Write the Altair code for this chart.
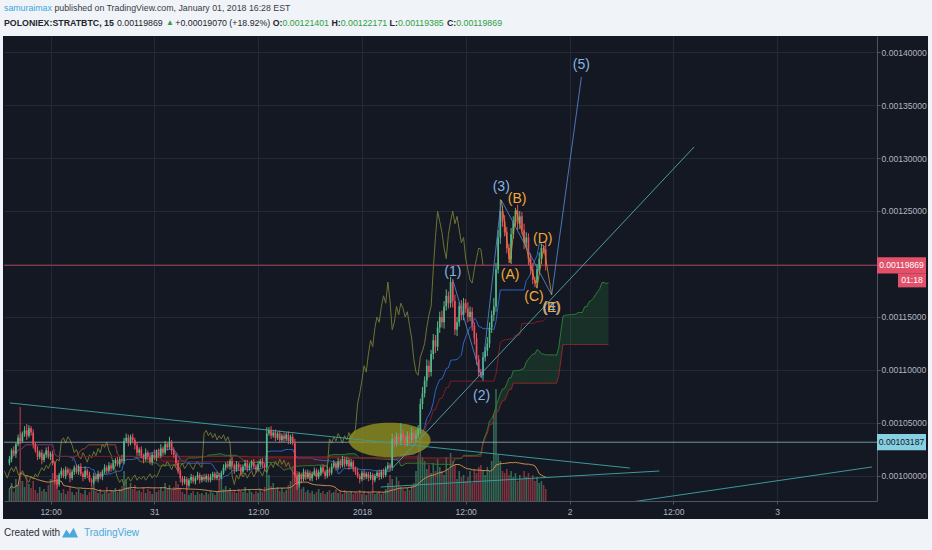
import altair as alt
import numpy as np
import pandas as pd

# ---------------------------------------------------------------------------
# POLONIEX:STRATBTC, 15-minute bars. Prices in micro-BTC (1e-6 BTC).
# ---------------------------------------------------------------------------
CLOSE = [
    1016, 1024, 1021, 1030, 1036, 1033, 1040, 1043, 1038, 1045,
    1041, 1030, 1024, 1018, 1022, 1015, 1020, 1024, 1018, 1021,
    1012, 997, 992, 1001, 1005, 1000, 1006, 1003, 998, 1004,
    1008, 1004, 1009, 1002, 999, 1005, 1001, 996, 994, 1000,
    997, 1002, 999, 1004, 1008, 1005, 1010, 1007, 1012, 1015,
    1011, 1016, 1014, 1033, 1036, 1031, 1037, 1034, 1029, 1022,
    1025, 1019, 1016, 1022, 1018, 1013, 1020, 1017, 1023, 1019,
    1026, 1022, 1030, 1027, 1032, 1024, 1020, 1012, 1005, 998,
    994, 997, 991, 996, 999, 995, 998, 1001, 996, 999,
    997, 1000, 996, 999, 1002, 998, 1001, 999, 1003, 1008,
    1011, 1009, 1014, 1010, 1006, 1011, 1008, 1004, 1009, 1012,
    1007, 1010, 1013, 1009, 1006, 1011, 1014, 1010, 1008, 1040,
    1043, 1038, 1041, 1036, 1040, 1034, 1038, 1035, 1039, 1033,
    1037, 1031, 1000, 992, 1001, 997, 1004, 999, 1003, 998,
    1002, 1005, 999, 1003, 1008, 1004, 1000, 1006, 1003, 1009,
    1012, 1008, 1014, 1010, 1016, 1011, 1015, 1009, 1013, 1007,
    1004, 1000, 997, 1003, 999, 1002, 998, 1001, 996, 1000,
    1003, 999, 1004, 1001, 1007, 1010, 1008, 1035, 1031, 1037,
    1033, 1040, 1036, 1031, 1038, 1034, 1041, 1035, 1039, 1044,
    1068, 1078, 1090, 1104, 1098, 1115, 1128, 1122, 1140, 1150,
    1145, 1160, 1170, 1163, 1183, 1165, 1138, 1145, 1160, 1152,
    1163, 1158, 1150, 1155, 1142, 1130, 1110, 1098, 1095, 1112,
    1118, 1125, 1140, 1152, 1160, 1195, 1225, 1250, 1240, 1230,
    1215, 1205, 1228, 1240, 1250, 1238, 1245, 1232, 1220, 1225,
    1205, 1195, 1185, 1182, 1195, 1205, 1215, 1214.01, 1198.69,
]
UPPER_WICK = [
    3, 2, 4, 2, 3, 5, 2, 4, 6, 3,
    2, 3, 2, 4, 2, 3, 2, 3, 4, 2,
    3, 2, 4, 2, 3, 2, 3, 2, 4, 2,
    2, 3, 2, 3, 2, 4, 2, 3, 2, 3,
    2, 3, 2, 2, 3, 2, 3, 2, 3, 2,
    3, 2, 4, 3, 4, 3, 2, 3, 2, 3,
    2, 3, 2, 4, 2, 3, 2, 5, 2, 3,
    4, 2, 3, 2, 5, 2, 3, 2, 3, 2,
    2, 3, 2, 2, 3, 2, 2, 3, 2, 2,
    3, 2, 2, 3, 2, 2, 3, 2, 2, 3,
    2, 3, 2, 4, 2, 3, 2, 3, 2, 3,
    3, 2, 2, 3, 2, 3, 2, 3, 2, 6,
    3, 4, 2, 3, 2, 3, 2, 3, 2, 3,
    2, 3, 4, 2, 3, 2, 3, 2, 3, 2,
    2, 3, 2, 3, 2, 3, 2, 3, 2, 3,
    3, 2, 3, 2, 3, 2, 3, 2, 3, 2,
    2, 3, 2, 2, 3, 2, 2, 3, 2, 2,
    2, 3, 2, 3, 2, 3, 2, 5, 3, 4,
    3, 10, 4, 3, 4, 3, 5, 3, 4, 4,
    5, 6, 4, 6, 5, 4, 6, 5, 6, 5,
    6, 5, 6, 4, 5, 3, 6, 5, 4, 6,
    5, 4, 6, 5, 4, 3, 5, 4, 3, 5,
    4, 6, 5, 4, 8, 6, 7, 11, 5, 6,
    5, 4, 6, 5, 3, 6, 5, 4, 6, 5,
    4, 5, 6, 3, 5, 6, 4, 3, 7.70,
]
LOWER_WICK = [
    2, 3, 2, 4, 2, 3, 2, 3, 4, 2,
    3, 4, 2, 3, 2, 4, 2, 3, 2, 3,
    2, 5, 4, 2, 3, 2, 3, 2, 4, 2,
    3, 2, 3, 2, 4, 2, 3, 2, 3, 2,
    2, 3, 2, 3, 2, 3, 2, 3, 2, 3,
    2, 3, 2, 3, 2, 3, 2, 3, 4, 3,
    3, 2, 4, 2, 3, 2, 3, 2, 3, 2,
    2, 3, 2, 3, 2, 4, 3, 4, 3, 4,
    3, 2, 4, 2, 3, 2, 3, 2, 3, 2,
    2, 3, 2, 2, 3, 2, 2, 3, 2, 2,
    3, 2, 3, 2, 4, 2, 3, 4, 2, 3,
    3, 2, 3, 2, 3, 2, 3, 2, 3, 4,
    2, 3, 2, 3, 2, 3, 2, 3, 2, 3,
    3, 2, 6, 5, 3, 4, 2, 3, 2, 3,
    3, 2, 3, 2, 3, 2, 3, 2, 3, 2,
    2, 3, 2, 3, 2, 3, 2, 3, 2, 3,
    3, 2, 4, 2, 3, 2, 3, 2, 5, 2,
    2, 3, 2, 3, 2, 2, 3, 3, 4, 3,
    3, 4, 3, 4, 3, 4, 3, 4, 3, 3,
    4, 5, 4, 6, 5, 4, 5, 6, 4, 5,
    5, 6, 4, 5, 4, 6, 5, 6, 4, 5,
    5, 4, 5, 4, 5, 6, 5, 4, 2, 5,
    4, 5, 4, 5, 6, 5, 4, 6, 5, 4,
    5, 4, 5, 4, 5, 6, 5, 4, 6, 5,
    6, 5, 4, 4, 5, 4, 5, 4, 4.84,
]
VOLUME = [
    12, 18, 9, 22, 15, 94, 20, 14, 25, 17,
    13, 20, 11, 8, 14, 10, 12, 9, 16, 22,
    28, 24, 19, 11, 8, 12, 7, 10, 14, 9,
    6, 9, 12, 8, 7, 11, 6, 9, 16, 20,
    10, 8, 12, 7, 9, 14, 8, 11, 10, 13,
    9, 12, 15, 30, 22, 14, 18, 12, 16, 10,
    11, 9, 14, 8, 12, 10, 7, 13, 9, 11,
    14, 10, 18, 12, 16, 11, 14, 20, 17, 13,
    9, 7, 12, 6, 8, 10, 6, 9, 7, 8,
    6, 9, 7, 10, 8, 6, 9, 22, 26, 12,
    15, 10, 13, 9, 11, 8, 12, 10, 9, 14,
    8, 11, 9, 7, 10, 8, 12, 9, 14, 30,
    26, 15, 18, 12, 14, 10, 13, 9, 11, 16,
    20, 35, 52, 30, 18, 12, 14, 9, 11, 8,
    10, 7, 9, 12, 8, 10, 7, 9, 11, 8,
    9, 12, 8, 10, 7, 11, 9, 8, 10, 7,
    9, 8, 11, 7, 10, 6, 9, 8, 15, 7,
    8, 10, 7, 9, 12, 18, 26, 22, 15, 24,
    20, 14, 12, 10, 13, 11, 15, 18, 30, 46,
    52, 44, 40, 32, 36, 28, 38, 30, 42, 34,
    30, 26, 44, 32, 48, 40, 36, 22, 30, 24,
    26, 20, 24, 30, 18, 32, 28, 34, 36, 30,
    26, 34, 30, 40, 88, 112, 46, 40, 30, 28,
    32, 26, 30, 24, 28, 20, 26, 22, 30, 24,
    28, 22, 26, 20, 24, 18, 20, 16, 12,
]
FIRST_OPEN = 1012
FIRST_BAR_HOURS = -40.75   # 2017-12-30 07:15 UTC, hours from 2018-01-01 00:00 UTC
BAR_HOURS = 0.25
PREV_DAY_CHANGE = 0.00019070
PREV_DAY_PCT = 18.92

# Ichimoku settings (conversion, base, span B, displacement)
ICHI_CONV, ICHI_BASE, ICHI_SPAN_B, ICHI_DISP = 20, 60, 120, 30

# Axis ticks
TIME_TICKS = [-36, -24, -12, 0, 12, 24, 36, 48]
TIME_LABELS = ["12:00", "31", "12:00", "2018", "12:00", "2", "12:00", "3"]
PRICE_TICKS = [0.00100, 0.00105, 0.00110, 0.00115, 0.00120,
               0.00125, 0.00130, 0.00135, 0.00140]
X_DOMAIN = [-40.8, 58.97]
Y_DOMAIN = [0.0009764, 0.0014151]
SUPPORT_LEVEL = 0.00103187

# Elliott wave drawing (hours, micro-BTC)
WAVE_T = [10.51, 13.83, 16.11, 21.94, 25.37]
WAVE_P = [1184.9, 1092.5, 1260.4, 1170.8, 1376.4]
WAVE_LABELS = ["(1)", "(2)", "(3)", "(4)", "(5)"]
WAVE_LABEL_T = [10.51, 13.83, 16.11, 21.94, 25.37]
WAVE_LABEL_P = [1192.5, 1075.5, 1272.6, 1158.5, 1387.7]

ABC_T = [16.11, 17.14, 17.83, 20.23, 21.03, 21.94]
ABC_P = [1260.4, 1200.9, 1250.9, 1177.4, 1216.0, 1170.8]
ABC_LABELS = ["(A)", "(B)", "(C)", "(D)", "(E)"]
ABC_LABEL_T = [17.14, 17.94, 19.89, 20.91, 21.94]
ABC_LABEL_P = [1189.6, 1261.3, 1168.9, 1223.6, 1158.5]

# Trend lines (start hours, start price, end hours, end price)
TREND_T1 = [-40.69, 2.17, 29.6, 3.54]
TREND_P1 = [1068.9, 989.6, 973.6, 1007.5]
TREND_T2 = [30.97, 34.4, 58.97, 38.4]
TREND_P2 = [1007.5, 1004.7, 1008.5, 1310.4]
TREND_COLORS = ["#3a9a98", "#3a9a98", "#3a9a98", "#4f9aa2"]

# Highlight ellipse centre
ELLIPSE_T = [3.2]
ELLIPSE_P = [1034.0]

# ---------------------------------------------------------------------------
# Colours and fonts
# ---------------------------------------------------------------------------
BG = "#141823"
PAGE = "#f0f3f7"
GRID = "#242936"
BORDER = "#50545f"
AXIS_TEXT = "#b2b5be"
UP = "#53b987"
DOWN = "#eb4d5c"
BLUE_WAVE = "#86b3e3"
ORANGE_WAVE = "#f2a93b"
SANS = "'Liberation Sans', Arial, sans-serif"

n = len(CLOSE)
assert len(UPPER_WICK) == n and len(LOWER_WICK) == n and len(VOLUME) == n

close = np.array(CLOSE, dtype=float)
open_ = np.concatenate([[FIRST_OPEN], close[:-1]])
high = np.maximum(open_, close) + np.array(UPPER_WICK, dtype=float)
low = np.minimum(open_, close) - np.array(LOWER_WICK, dtype=float)
t = FIRST_BAR_HOURS + BAR_HOURS * np.arange(n)
u = 1e-6

bars = pd.DataFrame({
    "t": t, "open": open_ * u, "close": close * u,
    "high": high * u, "low": low * u, "vol": VOLUME,
})
bars["vol_ma"] = bars["vol"].rolling(20, min_periods=1).mean()

# Ichimoku cloud from the bars above
hi_s, lo_s = pd.Series(high * u), pd.Series(low * u)


def midpoint(period):
    return (hi_s.rolling(period, min_periods=1).max()
            + lo_s.rolling(period, min_periods=1).min()) / 2


tenkan = midpoint(ICHI_CONV)
kijun = midpoint(ICHI_BASE)
span_a = (tenkan + kijun) / 2
span_b = midpoint(ICHI_SPAN_B)
shift = (ICHI_DISP - 1) * BAR_HOURS

ichi = pd.DataFrame({"t": t, "tenkan": tenkan, "kijun": kijun})
lagging = pd.DataFrame({"t": t - shift, "p": close * u})
lead = pd.DataFrame({"t": t + shift, "a": span_a, "b": span_b})

cloud_rows = []
seg, prev = 0, None
for i in range(n):
    up = "up" if span_a[i] >= span_b[i] else "down"
    if prev is not None and up != prev:
        seg += 1
        cloud_rows.append({"t": t[i - 1] + shift, "a": span_a[i - 1],
                           "b": span_b[i - 1], "seg": seg, "dir": up})
    cloud_rows.append({"t": t[i] + shift, "a": span_a[i], "b": span_b[i],
                       "seg": seg, "dir": up})
    prev = up
cloud = pd.DataFrame(cloud_rows)

waves = pd.DataFrame({"t": WAVE_T, "p": np.array(WAVE_P) * u, "o": range(len(WAVE_T))})
wave_labels = pd.DataFrame({"t": WAVE_LABEL_T, "p": np.array(WAVE_LABEL_P) * u,
                            "label": WAVE_LABELS})
abc = pd.DataFrame({"t": ABC_T, "p": np.array(ABC_P) * u, "o": range(len(ABC_T))})
abc_labels = pd.DataFrame({"t": ABC_LABEL_T, "p": np.array(ABC_LABEL_P) * u,
                           "label": ABC_LABELS})
trends = pd.DataFrame({"t1": TREND_T1, "p1": np.array(TREND_P1) * u,
                       "t2": TREND_T2, "p2": np.array(TREND_P2) * u,
                       "color": TREND_COLORS})
ellipse = pd.DataFrame({"t": ELLIPSE_T, "p": np.array(ELLIPSE_P) * u})
last_close = float(bars["close"].iloc[-1])
levels = pd.DataFrame({"p": [last_close]})
support = pd.DataFrame({"p": [SUPPORT_LEVEL]})
ONE = pd.DataFrame({"k": [0]})

# ---------------------------------------------------------------------------
# Scales and axes
# ---------------------------------------------------------------------------
label_expr = "''"
for v, lab in zip(reversed(TIME_TICKS), reversed(TIME_LABELS)):
    label_expr = f"datum.value == {v} ? '{lab}' : {label_expr}"

# the axis label that sits under the last-price tag is left blank
price_label_expr = (f"abs(datum.value - {last_close}) < 0.000008 ? '' : "
                    "format(datum.value, '.8f')")

AX_X = alt.Axis(values=TIME_TICKS, labelExpr=label_expr, title=None, grid=True,
                gridColor=GRID, domainColor=BORDER, tickColor=BORDER, tickSize=3,
                labelColor=AXIS_TEXT, labelFont=SANS, labelFontSize=8.5,
                labelPadding=3, labelOverlap=False, labelFlush=False)
AX_Y = alt.Axis(orient="right", values=PRICE_TICKS, labelExpr=price_label_expr,
                title=None, grid=True, gridColor=GRID, domainColor=BORDER,
                tickColor=BORDER, tickSize=3, labelColor=AXIS_TEXT, labelFont=SANS,
                labelFontSize=8.6, labelPadding=1, labelOverlap=False)
SX = alt.Scale(domain=X_DOMAIN, nice=False, zero=False)
SY = alt.Scale(domain=Y_DOMAIN, nice=False, zero=False)


def X(field):
    return alt.X(f"{field}:Q", scale=SX, axis=AX_X)


def Y(field):
    return alt.Y(f"{field}:Q", scale=SY, axis=AX_Y)


candle_color = alt.condition("datum.close >= datum.open", alt.value(UP), alt.value(DOWN))

# ---------------------------------------------------------------------------
# Volume pane (own scale)
# ---------------------------------------------------------------------------
vol_bars = alt.Chart(bars).mark_bar(size=1.6, opacity=0.5, clip=True).encode(
    x=X("t"), y=alt.Y("vol:Q", scale=alt.Scale(domain=[0, 465]), axis=None),
    color=candle_color)
vol_ma = alt.Chart(bars).mark_line(color="#c98c4e", strokeWidth=1, clip=True).encode(
    x=X("t"), y=alt.Y("vol_ma:Q", scale=alt.Scale(domain=[0, 465]), axis=None))
volume = alt.layer(vol_bars, vol_ma)

# ---------------------------------------------------------------------------
# Price pane
# ---------------------------------------------------------------------------
cloud_area = alt.Chart(cloud).mark_area(opacity=0.22, clip=True).encode(
    x=X("t"), y=Y("a"), y2="b", detail="seg:N",
    color=alt.Color("dir:N", scale=alt.Scale(domain=["up", "down"],
                                             range=["#2f8a3a", "#9c2a2a"]), legend=None))
lead_a = alt.Chart(lead).mark_line(color="#2c7a35", strokeWidth=1, clip=True).encode(
    x=X("t"), y=Y("a"))
lead_b = alt.Chart(lead).mark_line(color="#8e2626", strokeWidth=1, clip=True).encode(
    x=X("t"), y=Y("b"))
lag_line = alt.Chart(lagging).mark_line(color="#6d7331", strokeWidth=1, clip=True).encode(
    x=X("t"), y=Y("p"))
tenkan_line = alt.Chart(ichi).mark_line(color="#2e64c4", strokeWidth=1, clip=True).encode(
    x=X("t"), y=Y("tenkan"))
kijun_line = alt.Chart(ichi).mark_line(color="#7f1d28", strokeWidth=1, clip=True).encode(
    x=X("t"), y=Y("kijun"))

support_line = alt.Chart(support).mark_rule(color="#8fb3bb", strokeWidth=1, opacity=0.8).encode(
    y=Y("p"))
price_line = alt.Chart(levels).mark_rule(color="#9b3a52", strokeWidth=1).encode(y=Y("p"))

ELLIPSE_PATH = "M -1 0 A 1 0.42 0 1 0 1 0 A 1 0.42 0 1 0 -1 0 Z"
highlight = alt.Chart(ellipse).mark_point(
    shape=ELLIPSE_PATH, size=6724, filled=True, color="#8f8d20", opacity=0.82,
    strokeWidth=0).encode(x=X("t"), y=Y("p"))

trend_lines = alt.Chart(trends).mark_rule(strokeWidth=1, clip=True).encode(
    x=X("t1"), y=Y("p1"), x2="t2", y2="p2",
    color=alt.Color("color:N", scale=None))

wicks = alt.Chart(bars).mark_rule(strokeWidth=1, clip=True).encode(
    x=X("t"), y=Y("low"), y2="high", color=candle_color)
bodies = alt.Chart(bars).mark_bar(size=1.7, clip=True).encode(
    x=X("t"), y=Y("open"), y2="close", color=candle_color)

wave_path = alt.Chart(waves).mark_line(color="#5586cc", strokeWidth=1, opacity=0.85).encode(
    x=X("t"), y=Y("p"), order="o:Q")
abc_path = alt.Chart(abc).mark_line(color="#d08a2a", strokeWidth=1, opacity=0.85).encode(
    x=X("t"), y=Y("p"), order="o:Q")
wave_text = alt.Chart(wave_labels).mark_text(
    font=SANS, fontSize=14, color=BLUE_WAVE).encode(x=X("t"), y=Y("p"), text="label:N")
abc_text = alt.Chart(abc_labels).mark_text(
    font=SANS, fontSize=14, color=ORANGE_WAVE).encode(x=X("t"), y=Y("p"), text="label:N")

# Price tags on the right-hand axis
TAG_PATH = "M -1 -0.33 L 1 -0.33 L 1 0.33 L -1 0.33 Z"
SMALL_TAG_PATH = "M -1 -0.5 L 1 -0.5 L 1 0.5 L -1 0.5 Z"
TAG_X = 897.5
price_tag = alt.Chart(levels).mark_point(
    shape=TAG_PATH, size=2401, filled=True, color="#e2506a", opacity=1,
    strokeWidth=0).encode(x=alt.value(TAG_X), y=Y("p"))
price_tag_text = alt.Chart(levels).mark_text(
    font=SANS, fontSize=8.6, color="white").encode(
    x=alt.value(TAG_X), y=Y("p"), text=alt.Text("p:Q", format=".8f"))
timer_tag = alt.Chart(levels).mark_point(
    shape=SMALL_TAG_PATH, size=784, filled=True, color="#e2506a", opacity=1,
    strokeWidth=0, yOffset=15).encode(x=alt.value(908), y=Y("p"))
timer_text = alt.Chart(levels).mark_text(
    font=SANS, fontSize=8.6, color="white", dy=15).encode(
    x=alt.value(908), y=Y("p"), text=alt.value("01:18"))
support_tag = alt.Chart(support).mark_point(
    shape=TAG_PATH, size=2401, filled=True, color="#86d0e2", opacity=1,
    strokeWidth=0).encode(x=alt.value(TAG_X), y=Y("p"))
support_text = alt.Chart(support).mark_text(
    font=SANS, fontSize=8.6, color="#131722").encode(
    x=alt.value(TAG_X), y=Y("p"), text=alt.Text("p:Q", format=".8f"))


# ---------------------------------------------------------------------------
# Page frame, header and footer
# ---------------------------------------------------------------------------
def band(x1, x2, y1, y2):
    return alt.Chart(ONE).mark_rect(color=PAGE).encode(
        x=alt.value(x1), x2=alt.value(x2), y=alt.value(y1), y2=alt.value(y2))


def label(text, x, y, color, size=8.8, bold=False):
    return alt.Chart(ONE).mark_text(
        text=text, align="left", baseline="middle", font=SANS, fontSize=size,
        fontWeight="bold" if bold else "normal", color=color).encode(
        x=alt.value(x), y=alt.value(y))


frame = [band(-4, 928, -36, 0), band(-4, 928, 483, 514),
         band(-4, -1, 0, 483), band(924, 928, 0, 483)]

o_, h_, l_, c_ = (float(bars[k].iloc[-1]) for k in ("open", "high", "low", "close"))
DARK = "#22252e"
GREEN = "#2ea043"
header = [
    label("samuraimax", 0, -28, "#3ea6dd"),
    label("published on TradingView.com, January 01, 2018 16:28 EST", 50.4, -28, "#3a3d46"),
    label("POLONIEX:STRATBTC, 15", 0, -13, DARK, bold=True),
    label(f"{c_:.8f}", 112.9, -13, DARK),
    label("\u25b2", 161.9, -13, GREEN, size=8),
    label(f"+{PREV_DAY_CHANGE:.8f} (+{PREV_DAY_PCT:.2f}%)", 171.3, -13, DARK),
    label("O:", 268.7, -13, DARK, bold=True),
    label(f"{o_:.8f}", 278.5, -13, GREEN),
    label("H:", 327.4, -13, DARK, bold=True),
    label(f"{h_:.8f}", 336.7, -13, GREEN),
    label("L:", 385.6, -13, DARK, bold=True),
    label(f"{l_:.8f}", 393.9, -13, GREEN),
    label("C:", 442.9, -13, DARK, bold=True),
    label(f"{c_:.8f}", 452.2, -13, GREEN),
]

LOGO_PATH = "M -1 0.55 L -0.45 -0.45 L -0.05 0.15 L 0.45 -0.65 L 1 0.55 Z"
footer = [
    label("Created with", 0, 497, "#2a2e39", size=10),
    alt.Chart(ONE).mark_point(shape=LOGO_PATH, size=256, filled=True,
                              color="#49a8dc", opacity=1, strokeWidth=0).encode(
        x=alt.value(66), y=alt.value(497)),
    label("TradingView", 80, 497, "#49a8dc", size=10),
]

price_pane = alt.layer(
    cloud_area, lead_a, lead_b, lag_line, tenkan_line, kijun_line,
    support_line, price_line, highlight, trend_lines,
    wicks, bodies, wave_path, abc_path, wave_text, abc_text,
    price_tag, price_tag_text, timer_tag, timer_text, support_tag, support_text,
    *frame, *header, *footer,
)

chart = alt.layer(volume, price_pane).resolve_scale(y="independent").properties(
    width=873, height=465,
    padding={"left": 4, "top": 36, "right": 55, "bottom": 49},
    autosize=alt.AutoSizeParams(type="none"),
    background=BG,
).configure_view(strokeWidth=0)

chart.save("out.html", embed_options={"renderer": "svg", "actions": False})
